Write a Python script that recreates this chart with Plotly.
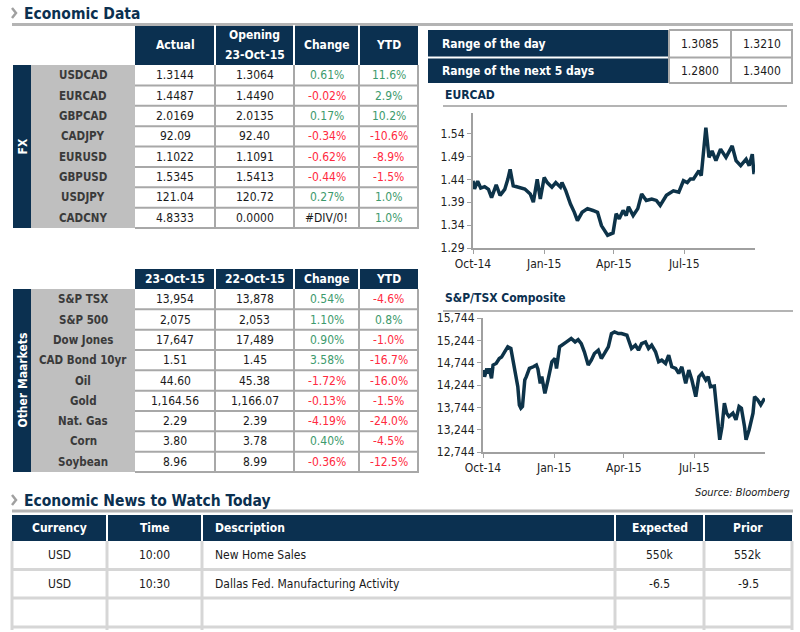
import plotly.graph_objects as go

# ---------------- DATA ----------------
fx_pairs = ["USDCAD", "EURCAD", "GBPCAD", "CADJPY", "EURUSD", "GBPUSD", "USDJPY", "CADCNY"]
fx_actual = ["1.3144", "1.4487", "2.0169", "92.09", "1.1022", "1.5345", "121.04", "4.8333"]
fx_opening = ["1.3064", "1.4490", "2.0135", "92.40", "1.1091", "1.5413", "120.72", "0.0000"]
fx_change = [0.61, -0.02, 0.17, -0.34, -0.62, -0.44, 0.27, None]
fx_ytd = [11.6, 2.9, 10.2, -10.6, -8.9, -1.5, 1.0, 1.0]
fx_headers = ["Actual", "Opening<br>23-Oct-15", "Change", "YTD"]

mkt_names = ["S&P TSX", "S&P 500", "Dow Jones", "CAD Bond 10yr", "Oil", "Gold", "Nat. Gas", "Corn", "Soybean"]
mkt_today = ["13,954", "2,075", "17,647", "1.51", "44.60", "1,164.56", "2.29", "3.80", "8.96"]
mkt_prev = ["13,878", "2,053", "17,489", "1.45", "45.38", "1,166.07", "2.39", "3.78", "8.99"]
mkt_change = [0.54, 1.10, 0.90, 3.58, -1.72, -0.13, -4.19, 0.40, -0.36]
mkt_ytd = [-4.6, 0.8, -1.0, -16.7, -16.0, -1.5, -24.0, -4.5, -12.5]
mkt_headers = ["23-Oct-15", "22-Oct-15", "Change", "YTD"]

range_labels = ["Range of the day", "Range of the next 5 days"]
range_low = ["1.3085", "1.2800"]
range_high = ["1.3210", "1.3400"]

news_headers = ["Currency", "Time", "Description", "Expected", "Prior"]
news_currency = ["USD", "USD", ""]
news_time = ["10:00", "10:30", ""]
news_desc = ["New Home Sales", "Dallas Fed. Manufacturing Activity", ""]
news_expected = ["550k", "-6.5", ""]
news_prior = ["552k", "-9.5", ""]

eurcad_dates = ["2014-10-01", "2014-10-03", "2014-10-07", "2014-10-11", "2014-10-16", "2014-10-21",
                "2014-10-25", "2014-10-31", "2014-11-05", "2014-11-11", "2014-11-15", "2014-11-18",
                "2014-11-22", "2014-11-29", "2014-12-03", "2014-12-07", "2014-12-14", "2014-12-18",
                "2014-12-23", "2014-12-27", "2015-01-01", "2015-01-05", "2015-01-11", "2015-01-16",
                "2015-01-22", "2015-01-24", "2015-01-29", "2015-02-04", "2015-02-09", "2015-02-13",
                "2015-02-19", "2015-02-26", "2015-03-05", "2015-03-11", "2015-03-16", "2015-03-20",
                "2015-03-24", "2015-03-31", "2015-04-04", "2015-04-08", "2015-04-13", "2015-04-17",
                "2015-04-20", "2015-04-26", "2015-05-02", "2015-05-07", "2015-05-13", "2015-05-20",
                "2015-05-26", "2015-05-31", "2015-06-08", "2015-06-17", "2015-06-24", "2015-06-30",
                "2015-07-05", "2015-07-09", "2015-07-13", "2015-07-20", "2015-07-23", "2015-07-29",
                "2015-08-02", "2015-08-06", "2015-08-11", "2015-08-17", "2015-08-24", "2015-09-01",
                "2015-09-06", "2015-09-12", "2015-09-19", "2015-09-23", "2015-09-27", "2015-09-29",
                "2015-09-30"]
eurcad_values = [1.437, 1.419, 1.436, 1.421, 1.424, 1.418,
                 1.400, 1.428, 1.405, 1.418, 1.440, 1.462,
                 1.426, 1.422, 1.420, 1.419, 1.408, 1.390,
                 1.440, 1.397, 1.444, 1.433, 1.423, 1.433,
                 1.423, 1.433, 1.415, 1.386, 1.368, 1.350,
                 1.368, 1.376, 1.372, 1.368, 1.339, 1.328,
                 1.318, 1.323, 1.365, 1.354, 1.372, 1.361,
                 1.380, 1.361, 1.376, 1.408, 1.394, 1.397,
                 1.394, 1.383, 1.405, 1.415, 1.412, 1.437,
                 1.433, 1.441, 1.441, 1.459, 1.448, 1.553,
                 1.488, 1.502, 1.481, 1.506, 1.488, 1.513,
                 1.481, 1.470, 1.484, 1.470, 1.495, 1.455,
                 1.455]

tsx_dates = ["2014-10-01", "2014-10-03", "2014-10-06", "2014-10-07", "2014-10-09", "2014-10-12",
             "2014-10-14", "2014-10-18", "2014-10-22", "2014-10-25", "2014-10-29", "2014-11-02",
             "2014-11-06", "2014-11-09", "2014-11-11", "2014-11-13", "2014-11-15", "2014-11-17",
             "2014-11-19", "2014-11-21", "2014-11-24", "2014-11-26", "2014-11-30", "2014-12-05",
             "2014-12-09", "2014-12-11", "2014-12-14", "2014-12-16", "2014-12-20", "2014-12-24",
             "2014-12-29", "2015-01-02", "2015-01-04", "2015-01-08", "2015-01-13", "2015-01-17",
             "2015-01-23", "2015-01-28", "2015-02-01", "2015-02-05", "2015-02-09", "2015-02-14",
             "2015-02-18", "2015-02-22", "2015-02-27", "2015-03-03", "2015-03-07", "2015-03-12",
             "2015-03-16", "2015-03-20", "2015-03-25", "2015-03-29", "2015-04-05", "2015-04-07",
             "2015-04-11", "2015-04-16", "2015-04-20", "2015-04-24", "2015-04-29", "2015-05-03",
             "2015-05-07", "2015-05-12", "2015-05-16", "2015-05-20", "2015-05-25", "2015-05-29",
             "2015-06-02", "2015-06-07", "2015-06-11", "2015-06-15", "2015-06-20", "2015-06-24",
             "2015-06-28", "2015-07-03", "2015-07-07", "2015-07-11", "2015-07-16", "2015-07-19",
             "2015-07-22", "2015-07-27", "2015-07-31", "2015-08-03", "2015-08-06", "2015-08-09",
             "2015-08-12", "2015-08-15", "2015-08-20", "2015-08-24", "2015-08-28", "2015-08-31",
             "2015-09-04", "2015-09-06", "2015-09-10", "2015-09-15", "2015-09-17", "2015-09-21",
             "2015-09-25", "2015-09-28", "2015-09-30"]
tsx_values = [14578, 14430, 14615, 14500, 14615, 14393,
              14690, 14727, 14838, 14870, 14987, 15098,
              15061, 14801, 14652, 14430, 14207, 13798,
              13724, 13761, 14355, 14430, 14615, 14652,
              14690, 14600, 14281, 14430, 14058, 14355,
              14764, 14838, 14615, 15098, 15172, 15209,
              15284, 15209, 15261, 15172, 14987, 14690,
              14801, 14950, 15024, 14838, 14950, 15098,
              15395, 15432, 15395, 15395, 15358, 15247,
              15061, 15135, 15024, 15172, 15209, 15061,
              15135, 14987, 14764, 14801, 14727, 14913,
              14652, 14615, 14504, 14652, 14281, 14578,
              14355, 13984, 14430, 14504, 14355, 14430,
              14207, 14222, 13539, 13019, 13316, 13836,
              13613, 13539, 13613, 13464, 13761, 13724,
              13316, 13019, 13242, 13613, 13984, 13910,
              13798, 13910, 13947]

# ---------------- STYLE ----------------
W, H = 800, 632
NAVY = "#0b3050"
GRAYCOL = "#bfbfbf"
BORDER = "#a8a8a8"
LIGHTBORDER = "#d6d6d6"
RULE = "#b4b4b4"
GREEN = "#3c9a6c"
RED = "#ff2a40"
TXT = "#1a1a1a"
LABEL = "#3a3a3a"
LINE = "#0d3349"
FONT = "DejaVu Sans Condensed, DejaVu Sans, sans-serif"


def X(p):
    return p / W


def Y(p):
    return 1 - p / H


shapes = []
annots = []


def rect(x0, y0, x1, y1, fill):
    shapes.append(dict(type="rect", xref="paper", yref="paper", x0=X(x0), x1=X(x1),
                       y0=Y(y1), y1=Y(y0), fillcolor=fill, line=dict(width=0), layer="below"))


def hline(x0, x1, y, color, w):
    shapes.append(dict(type="line", xref="paper", yref="paper", x0=X(x0), x1=X(x1),
                       y0=Y(y), y1=Y(y), line=dict(color=color, width=w)))


def vline(x, y0, y1, color, w):
    shapes.append(dict(type="line", xref="paper", yref="paper", x0=X(x), x1=X(x),
                       y0=Y(y0), y1=Y(y1), line=dict(color=color, width=w)))


def chevron(x, y):
    shapes.append(dict(type="path", xref="paper", yref="paper",
                       path=f"M {X(x)} {Y(y - 5)} L {X(x + 4)} {Y(y)} L {X(x)} {Y(y + 5)}",
                       line=dict(color="#a0a0a0", width=2.5)))


def esc(s):
    return s.replace("&", "&amp;")


def text(x, y, s, size=12, color=TXT, bold=False, italic=False, anchor="center", angle=0):
    t = esc(s)
    if bold:
        t = "<b>" + t + "</b>"
    if italic:
        t = "<i>" + t + "</i>"
    annots.append(dict(xref="paper", yref="paper", x=X(x), y=Y(y), text=t, showarrow=False,
                       xanchor=anchor, yanchor="middle", textangle=angle,
                       font=dict(size=size, color=color, family=FONT)))


def pct(v, dec):
    if v is None:
        return "#DIV/0!", TXT
    return f"{v:.{dec}f}%", (RED if v < 0 else GREEN)


# ---------- Section titles ----------
chevron(12, 13)
text(22, 13.5, "Economic Data", size=15.5, color=NAVY, bold=True, anchor="left")
hline(12, 793, 24.5, RULE, 3)

chevron(12, 500)
text(22, 500.5, "Economic News to Watch Today", size=15.5, color=NAVY, bold=True, anchor="left")
hline(12, 793, 511, RULE, 3)

text(792, 492, "Source: Bloomberg", size=11, italic=True, anchor="right")


# ---------- Data tables ----------
def data_table(hy0, hy1, ry1, headers, names, c1, c2, chg, ytd, side_label):
    edges = [135, 215, 294, 359, 418]
    rect(135, hy0, 418, hy1, NAVY)
    for e in edges[1:-1]:
        vline(e, hy0, hy1, "white", 2)
    for i, h in enumerate(headers):
        lines = h.split("<br>")
        xc = (edges[i] + edges[i + 1]) / 2
        yc = (hy0 + hy1) / 2
        if len(lines) == 1:
            text(xc, yc, h, size=12, color="white", bold=True)
        else:
            text(xc, yc - 10, lines[0], size=12, color="white", bold=True)
            text(xc, yc + 10, lines[1], size=12, color="white", bold=True)
    n = len(names)
    rh = (ry1 - hy1) / n
    rect(13, hy1, 31, ry1, NAVY)
    rect(31, hy1, 135, ry1, GRAYCOL)
    text(22, (hy1 + ry1) / 2, side_label, size=12, color="white", bold=True, angle=-90)
    for i in range(n):
        yc = hy1 + rh * (i + 0.5)
        hline(135, 419, hy1 + rh * (i + 1), BORDER, 2)
        text(83, yc, names[i], size=11.5, color=LABEL, bold=True)
        text((edges[0] + edges[1]) / 2, yc, c1[i])
        text((edges[1] + edges[2]) / 2, yc, c2[i])
        s, col = pct(chg[i], 2)
        text((edges[2] + edges[3]) / 2, yc, s, color=col)
        s, col = pct(ytd[i], 1)
        text((edges[3] + edges[4]) / 2, yc, s, color=col)
    for e in edges[1:]:
        vline(e, hy1, ry1, BORDER, 2)


data_table(25, 65, 228, fx_headers, fx_pairs, fx_actual, fx_opening, fx_change, fx_ytd, "FX")
data_table(269, 289, 472, mkt_headers, mkt_names, mkt_today, mkt_prev, mkt_change, mkt_ytd,
           "Other Maarkets")

# ---------- Range table ----------
rect(428, 30, 669, 83, NAVY)
hline(428, 669, 57.5, "white", 2)
for y in (30, 57.5, 83):
    hline(669, 793, y, BORDER, 2)
for x in (669, 731, 792):
    vline(x, 30, 83, BORDER, 2)
for i, lab in enumerate(range_labels):
    yc = 44 + i * 26.5
    text(440, yc, lab, size=12, color="white", bold=True, anchor="left")
    text(700, yc, range_low[i])
    text(761.5, yc, range_high[i])

# ---------- Chart titles ----------
text(443, 95, "EURCAD", size=12, color=NAVY, bold=True, anchor="left")
hline(443, 787, 106, RULE, 2)
text(443, 298, "S&P/TSX Composite", size=12, color=NAVY, bold=True, anchor="left")
hline(443, 793, 311, RULE, 2)

# ---------- News table ----------
nedges = [12, 107, 202, 615, 704, 792]
rect(12, 515, 792, 541, NAVY)
for e in nedges[1:-1]:
    vline(e, 515, 541, "white", 2)
for i, h in enumerate(news_headers):
    if i == 2:
        text(213, 528, h, size=12, color="white", bold=True, anchor="left")
    else:
        text((nedges[i] + nedges[i + 1]) / 2, 528, h, size=12, color="white", bold=True)
nrows = [541, 569.5, 598, 627]
for r in range(len(news_currency)):
    yc = (nrows[r] + nrows[r + 1]) / 2
    hline(12, 793, nrows[r + 1], LIGHTBORDER, 3)
    text((nedges[0] + nedges[1]) / 2, yc, news_currency[r])
    text((nedges[1] + nedges[2]) / 2, yc, news_time[r])
    text(213, yc, news_desc[r], anchor="left")
    text((nedges[3] + nedges[4]) / 2, yc, news_expected[r])
    text((nedges[4] + nedges[5]) / 2, yc, news_prior[r])
for e in nedges:
    vline(e, 541, 630, LIGHTBORDER, 3)

# ---------- Charts ----------
fig = go.Figure()
fig.add_trace(go.Scatter(x=eurcad_dates, y=eurcad_values, mode="lines",
                         line=dict(color=LINE, width=3.5), xaxis="x", yaxis="y",
                         hoverinfo="skip"))
fig.add_trace(go.Scatter(x=tsx_dates, y=tsx_values, mode="lines",
                         line=dict(color=LINE, width=3.5), xaxis="x2", yaxis="y2",
                         hoverinfo="skip"))

axis_common = dict(showline=True, linecolor="#a0a0a0", linewidth=2, ticks="outside",
                   ticklen=4, tickcolor="#a0a0a0", showgrid=False, zeroline=False,
                   automargin=False, tickfont=dict(size=12, color="#222", family=FONT))
xdate = dict(type="date", range=["2014-10-01", "2015-09-30 12:00"], tick0="2014-10-01",
             dtick="M3", tickformat="%b-%y")

fig.update_layout(
    width=W, height=H, autosize=False, margin=dict(l=0, r=0, t=0, b=0, pad=0, autoexpand=False),
    paper_bgcolor="white", plot_bgcolor="white", showlegend=False,
    xaxis=dict(domain=[X(473), X(755)], anchor="y", **xdate, **axis_common),
    yaxis=dict(domain=[Y(248), Y(113)], anchor="x", range=[1.29, 1.585], tick0=1.29,
               dtick=0.05, tickformat=".2f", **axis_common),
    xaxis2=dict(domain=[X(483), X(765)], anchor="y2", **xdate, **axis_common),
    yaxis2=dict(domain=[Y(452), Y(318)], anchor="x2", range=[12744, 15744], tick0=12744,
                dtick=500, tickformat=",d", **axis_common),
    shapes=shapes, annotations=annots,
)

fig.write_html("out.html", config={"displayModeBar": False, "responsive": False},
               post_script="document.body.style.margin='0';document.body.style.overflow='hidden';")
